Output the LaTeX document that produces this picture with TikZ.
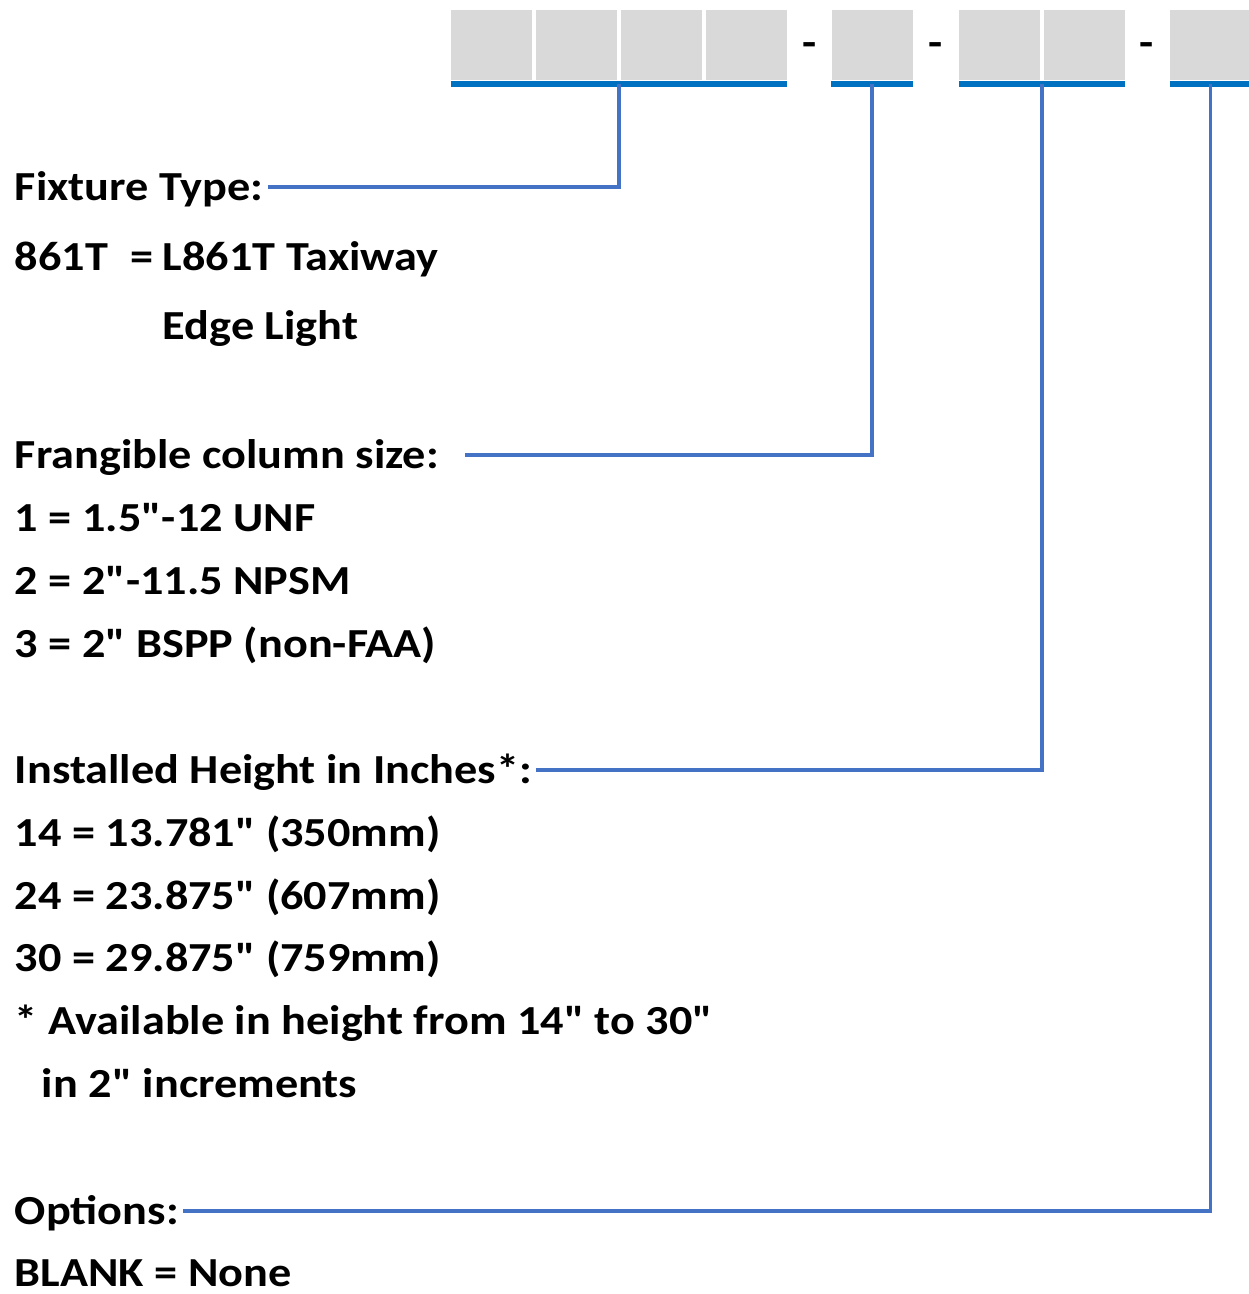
\documentclass[tikz,border=0pt]{standalone}
\usepackage{fontspec}
\setmainfont{Carlito}[Ligatures=TeXOff, FakeStretch=1.12]
\usepackage{tikz}
\usetikzlibrary{positioning, calc}
\definecolor{ink}{RGB}{0,0,0}
\definecolor{cellgray}{RGB}{217,217,217}
\definecolor{ulblue}{RGB}{0,112,192}
\definecolor{leadblue}{RGB}{68,114,196}
\tikzset{
  cell/.style ={rectangle, fill=cellgray, inner sep=0pt, minimum width=1.62cm, minimum height=1.4cm},
  uline/.style={line width=3.5pt, color=ulblue},
  lead/.style ={line width=2.1pt, color=leadblue, shorten >=0.8pt},
  lbl/.style  ={anchor=west, inner xsep=1.5pt, inner ysep=0pt, text height=17.4pt, text depth=2.6pt,
                font=\fontsize{23.5}{28}\selectfont\bfseries, color=ink},
  sep/.style  ={font=\fontsize{23.5}{28}\selectfont\bfseries, inner sep=0pt, color=ink},
}

\begin{document}
\begin{tikzpicture}[x=0.02cm, y=-0.02cm]
\useasboundingbox (0,0) rectangle (1248,1294);

\foreach \i/\x in {1/491.5, 2/576.5, 3/661.5, 4/746.5}
  \node[cell] (a\i) at (\x,45) {};
\node[cell] (b1) at (872,45) {};
\foreach \i/\x in {1/999.5, 2/1084.5}
  \node[cell] (c\i) at (\x,45) {};
\node[cell] (d1) at (1210.5,45) {};

\node[sep] (dash1) at (810,50) {-};
\node[sep] (dash2) at (936,50) {-};
\node[sep] (dash3) at (1147,50) {-};

\coordinate (ulA) at ($(a1.south west)+(0,4)$);
\coordinate (urA) at ($(a4.south east)+(0,4)$);
\coordinate (ulB) at ($(b1.south west)+(0,4)$);
\coordinate (urB) at ($(b1.south east)+(0,4)$);
\coordinate (ulC) at ($(c1.south west)+(0,4)$);
\coordinate (urC) at ($(c2.south east)+(0,4)$);
\coordinate (ulD) at ($(d1.south west)+(0,4)$);
\coordinate (urD) at ($(d1.south east)+(0,4)$);

\draw[uline] (ulA) -- (urA);
\draw[uline] (ulB) -- (urB);
\draw[uline] (ulC) -- (urC);
\draw[uline] (ulD) -- (urD);

\coordinate (tapA) at ($(ulA)!0.5!(urA)$);
\coordinate (tapB) at ($(ulB)!0.5!(urB)$);
\coordinate (tapC) at ($(ulC)!0.5!(urC)$);
\coordinate (tapD) at ($(ulD)!0.5!(urD)$);

\node[lbl] (ftype) at (12,187) {Fixture Type:};
\node[lbl] (ftcode) at (12,257) {861T};
\node[lbl] (fteq) at (128,257) {=};
\node[lbl] (ftname) at (160,257) {L861T Taxiway};
\node[lbl] (ftname2) at (160,326) {Edge Light};

\node[lbl] (fcol) at (12,455) {Frangible column size:};
\node[lbl] (fcol1) at (12,518) {1 = 1.5"-12 UNF};
\node[lbl] (fcol2) at (12,581) {2 = 2"-11.5 NPSM};
\node[lbl] (fcol3) at (12,644) {3 = 2" BSPP (non-FAA)};

\node[lbl] (hgt) at (12,770) {Installed Height in Inches*:};
\node[lbl] (hgt1) at (12,833) {14 = 13.781" (350mm)};
\node[lbl] (hgt2) at (12,896) {24 = 23.875" (607mm)};
\node[lbl] (hgt3) at (12,958) {30 = 29.875" (759mm)};
\node[lbl] (hgtnote) at (12,1021) {* Available in height from 14" to 30"};
\node[lbl] (hgtnote2) at (39,1084) {in 2" increments};

\node[lbl] (opt) at (12,1211) {Options:};
\node[lbl] (opt1) at (12,1273) {BLANK = None};

\draw[lead] (tapA) |- (ftype.east);
\draw[lead, shorten >=13pt] (tapB) |- (fcol.east);
\draw[lead] (tapC) |- (hgt.east);
\draw[lead] (tapD) |- (opt.east);
\end{tikzpicture}
\end{document}
